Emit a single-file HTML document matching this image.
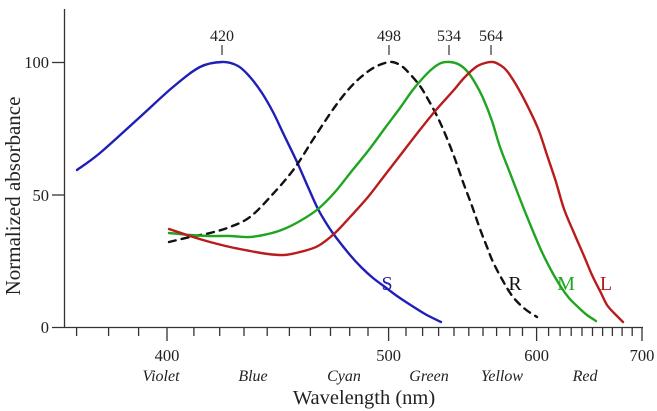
<!DOCTYPE html>
<html><head><meta charset="utf-8"><style>
html,body{margin:0;padding:0;background:#fff;}
svg{display:block;}
text{font-family:"Liberation Serif",serif;fill:#222;}
</style></head><body>
<svg id="s" width="657" height="411" viewBox="0 0 657 411" xmlns="http://www.w3.org/2000/svg">
<g stroke="#333" stroke-width="1.3" fill="none">
<line x1="64.5" y1="9" x2="64.5" y2="327.5"/>
<line x1="52" y1="327.5" x2="643" y2="327.5"/>
<line x1="52" y1="195" x2="64.5" y2="195"/>
<line x1="52" y1="62.5" x2="64.5" y2="62.5"/>
</g>
<g font-size="16.5" text-anchor="end">
<text x="49" y="68">100</text>
<text x="49" y="201">50</text>
<text x="49" y="333">0</text>
</g>
<text font-size="21" transform="translate(20,196) rotate(-90)" text-anchor="middle">Normalized absorbance</text>
<g font-size="16.5" text-anchor="middle">
<text x="167" y="361">400</text>
<text x="388.6" y="361">500</text>
<text x="536.6" y="361">600</text>
<text x="642" y="361">700</text>
</g>
<g font-size="16" font-style="italic" text-anchor="middle">
<text x="161" y="381">Violet</text>
<text x="253" y="381">Blue</text>
<text x="344" y="381">Cyan</text>
<text x="429" y="381">Green</text>
<text x="502" y="381">Yellow</text>
<text x="585" y="381">Red</text>
</g>
<text x="364" y="404" font-size="20.5" text-anchor="middle">Wavelength (nm)</text>
<g font-size="16" text-anchor="middle">
<text x="222" y="41">420</text>
<text x="389" y="41">498</text>
<text x="449" y="41">534</text>
<text x="491" y="41">564</text>
</g>
<g stroke="#333" stroke-width="1.2">
<line x1="222" y1="45" x2="222" y2="55"/>
<line x1="389" y1="45" x2="389" y2="55"/>
<line x1="449" y1="45" x2="449" y2="55"/>
<line x1="491" y1="45" x2="491" y2="55"/>
</g>
<g fill="none" stroke-width="2.4" stroke-linejoin="round" stroke-linecap="round">
<path id="pb" stroke="#1f1fb8"/>
<path id="pr" stroke="#111" stroke-dasharray="7,6"/>
<path id="pg" stroke="#1fa51f"/>
<path id="pl" stroke="#b81c1c"/>
</g>
<g font-size="20" text-anchor="middle">
<text x="387" y="290" style="fill:#1f1fb8">S</text>
<text x="515" y="290" style="fill:#111">R</text>
<text x="566" y="290" style="fill:#1fa51f">M</text>
<text x="606" y="290" style="fill:#b81c1c">L</text>
</g>
<g stroke="#333" stroke-width="1.3">
<line x1="76.6" y1="327" x2="76.6" y2="336"/><line x1="108.6" y1="327" x2="108.6" y2="336"/><line x1="138.6" y1="327" x2="138.6" y2="336"/><line x1="167" y1="327" x2="167" y2="341"/><line x1="193.9" y1="327" x2="193.9" y2="336"/><line x1="219.7" y1="327" x2="219.7" y2="336"/><line x1="244" y1="327" x2="244" y2="336"/><line x1="267.2" y1="327" x2="267.2" y2="336"/><line x1="289.4" y1="327" x2="289.4" y2="336"/><line x1="310.4" y1="327" x2="310.4" y2="336"/><line x1="330.5" y1="327" x2="330.5" y2="336"/><line x1="349.7" y1="327" x2="349.7" y2="336"/><line x1="368" y1="327" x2="368" y2="336"/><line x1="388.6" y1="327" x2="388.6" y2="341"/><line x1="406" y1="327" x2="406" y2="336"/><line x1="422.6" y1="327" x2="422.6" y2="336"/><line x1="438.6" y1="327" x2="438.6" y2="336"/><line x1="454" y1="327" x2="454" y2="336"/><line x1="468.8" y1="327" x2="468.8" y2="336"/><line x1="483" y1="327" x2="483" y2="336"/><line x1="496.6" y1="327" x2="496.6" y2="336"/><line x1="509.8" y1="327" x2="509.8" y2="336"/><line x1="522.5" y1="327" x2="522.5" y2="336"/><line x1="536.6" y1="327" x2="536.6" y2="341"/><line x1="548.6" y1="327" x2="548.6" y2="336"/><line x1="560.1" y1="327" x2="560.1" y2="336"/><line x1="571.2" y1="327" x2="571.2" y2="336"/><line x1="582" y1="327" x2="582" y2="336"/><line x1="592.5" y1="327" x2="592.5" y2="336"/><line x1="602.6" y1="327" x2="602.6" y2="336"/><line x1="612.4" y1="327" x2="612.4" y2="336"/><line x1="622.1" y1="327" x2="622.1" y2="336"/><line x1="632.2" y1="327" x2="632.2" y2="336"/><line x1="642" y1="327" x2="642" y2="341"/>
</g>
</svg>
<script>
function cr(p){var d="M"+p[0][0]+","+p[0][1];for(var i=0;i<p.length-1;i++){var a=p[i-1]||p[i],b=p[i],c=p[i+1],e=p[i+2]||c;
d+=" C"+(b[0]+(c[0]-a[0])/6).toFixed(1)+","+(b[1]+(c[1]-a[1])/6).toFixed(1)+" "+(c[0]-(e[0]-b[0])/6).toFixed(1)+","+(c[1]-(e[1]-b[1])/6).toFixed(1)+" "+c[0]+","+c[1];}return d;}
var B=[[77,170],[100,153],[140,117],[173,87],[200,67],[222,62],[238,66],[250,77],[262,93],[273,112],[284,135],[297,162],[308,187],[318,209],[328,226],[338,240],[350,255],[361,267],[373,278],[385,287],[397,296],[409,304],[425,314],[441,322]];
var R=[[169,242],[190,237],[210,233],[230,227],[250,217],[272,195],[294,169],[314,138],[334,108],[348,90],[361,77],[375,67],[390,62],[400,65],[409,73],[420,86],[429,101],[438,118],[446,136],[455,159],[463,182],[472,206],[480,229],[487,247],[493,262],[503,281],[513,297],[525,309],[537,317]];
var G=[[169,233],[190,235],[210,236],[230,236],[250,237],[268,234],[284,229],[300,221],[318,209],[335,192],[351,172],[368,151],[385,128],[400,108],[412,91],[422,79],[432,69],[441,63],[450,62],[458,64],[466,70],[474,81],[483,98],[492,121],[500,147],[510,173],[520,199],[530,224],[541,250],[551,270],[561,287],[569,298],[578,307],[587,315],[596,321]];
var L=[[169,229],[190,236],[210,242],[230,247],[250,251],[268,254],[284,255],[300,252],[318,246],[335,233],[351,216],[368,197],[385,175],[402,153],[419,131],[436,110],[453,91],[464,78],[476,67],[485,63],[493,62],[500,65],[507,71],[518,88],[530,111],[539,131],[547,155],[556,182],[564,209],[574,233],[584,256],[592,275],[601,293],[607,305],[614,313],[623,322]];
document.getElementById("pb").setAttribute("d",cr(B));
document.getElementById("pr").setAttribute("d",cr(R));
document.getElementById("pg").setAttribute("d",cr(G));
document.getElementById("pl").setAttribute("d",cr(L));
</script>
</body></html>
